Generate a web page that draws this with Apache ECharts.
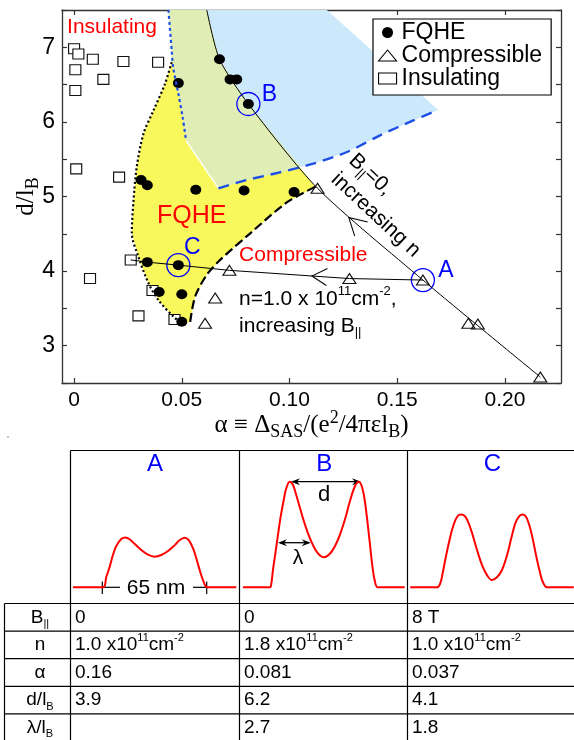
<!DOCTYPE html>
<html>
<head>
<meta charset="utf-8">
<script src="https://cdn.jsdelivr.net/npm/echarts@6/dist/echarts.min.js"></script>
<style>
  html, body { margin: 0; padding: 0; background: #fff; }
  #chart { width: 574px; height: 740px; }
</style>
</head>
<body>
<div id="chart"></div>
<script>
// phase diagram points: [alpha, d/lB]
const fqhe = [[0.0675, 6.84], [0.0724, 6.57], [0.0755, 6.57], [0.0484, 6.52], [0.0809, 6.24], [0.0311, 5.22], [0.034, 5.15], [0.0565, 5.09], [0.0789, 5.08], [0.1021, 5.06], [0.034, 4.12], [0.0484, 4.08], [0.0395, 3.72], [0.05, 3.69], [0.05, 3.32]]
const compressible = [[0.113, 5.11], [0.0721, 4.01], [0.0655, 3.64], [0.0608, 3.30], [0.1278, 3.90], [0.1619, 3.88], [0.183, 3.30], [0.1874, 3.29], [0.2164, 2.58]]
const insulating = [[0.0, 6.98], [0.002, 6.91], [0.0087, 6.84], [0.0229, 6.81], [0.039, 6.80], [0.0006, 6.70], [0.0136, 6.57], [0.0006, 6.42], [0.001, 5.37], [0.0209, 5.26], [0.0263, 4.15], [0.0074, 3.90], [0.0364, 3.74], [0.0299, 3.40], [0.0466, 3.35]]

// measurement paths
const pathIncN = [[0.2164, 2.58], [0.1619, 3.88], [0.113, 5.11], [0.0809, 6.24], [0.0675, 6.84], [0.0616, 7.5]]
const pathIncB = [[0.1619, 3.88], [0.1278, 3.90], [0.0721, 4.01], [0.0484, 4.08], [0.034, 4.12], [0.0263, 4.15]]
const markedNames = ['A', 'B', 'C']
const markedPoints = [[0.1619, 3.88], [0.0809, 6.24], [0.0484, 4.08]]

// region boundaries
const blackDotted = [[0.0453, 6.80], [0.0422, 6.51], [0.0368, 6.15], [0.0322, 5.84], [0.0291, 5.40], [0.0276, 4.95], [0.0268, 4.51], [0.0299, 4.19], [0.0345, 3.84], [0.0392, 3.61], [0.0461, 3.39], [0.05, 3.30]]
const blueDotted = [[0.0438, 7.5], [0.0453, 6.96], [0.046, 6.73], [0.0484, 6.38], [0.0504, 6.06], [0.052, 5.75]]
const whiteEdge = [[0.052, 5.75], [0.067, 5.11]]
const blackDashed = [[0.0539, 3.32], [0.0562, 3.66], [0.0616, 3.95], [0.0678, 4.15], [0.0815, 4.50], [0.0987, 4.92], [0.112, 5.13]]
const blueDashed = [[0.067, 5.11], [0.080, 5.22], [0.095, 5.32], [0.111, 5.44], [0.127, 5.60], [0.142, 5.82], [0.1575, 6.02], [0.169, 6.16]]
const blueCorner = [[0.1173, 7.5]]
const lineCross = [[0.105, 5.40]]

// density profiles: [position nm, density (B peak = 1)]
const waveA = [[-51.1, 0], [-32.4, 0], [-30.3, 0.10], [-28.2, 0.195], [-26.2, 0.306], [-24.1, 0.391], [-21.0, 0.457], [-18.5, 0.473], [-15.8, 0.455], [-12.6, 0.41], [-8.5, 0.353], [-4.4, 0.309], [-0.2, 0.29], [3.9, 0.306], [8.1, 0.344], [12.3, 0.40], [15.4, 0.448], [18.5, 0.47], [21.0, 0.448], [23.7, 0.369], [25.7, 0.275], [27.8, 0.164], [29.9, 0.069], [32.6, 0], [50.6, 0]]
const waveB = [[-50.6, 0], [-33.9, 0], [-32.9, 0.038], [-31.9, 0.164], [-30.4, 0.322], [-28.8, 0.495], [-27.1, 0.669], [-25.2, 0.827], [-23.6, 0.938], [-21.5, 1.0], [-19.4, 0.969], [-17.4, 0.874], [-15.3, 0.763], [-13.2, 0.653], [-10.1, 0.511], [-7.0, 0.40], [-3.9, 0.322], [-0.1, 0.284], [3.4, 0.315], [6.5, 0.384], [9.7, 0.495], [12.8, 0.637], [15.9, 0.81], [19.0, 0.953], [21.5, 1.0], [23.5, 0.953], [25.2, 0.827], [26.8, 0.637], [28.3, 0.432], [29.8, 0.227], [31.4, 0.069], [33.5, 0], [50.1, 0]]
const waveC = [[-51.1, 0], [-34.4, 0], [-32.4, 0.038], [-30.9, 0.133], [-29.3, 0.259], [-27.1, 0.417], [-25.1, 0.543], [-23.0, 0.637], [-20.9, 0.685], [-18.9, 0.691], [-16.8, 0.669], [-14.7, 0.606], [-12.2, 0.495], [-9.5, 0.353], [-6.4, 0.211], [-3.3, 0.116], [-0.2, 0.069], [2.9, 0.095], [6.0, 0.164], [9.2, 0.306], [11.8, 0.464], [14.3, 0.606], [16.8, 0.675], [18.9, 0.691], [21.0, 0.669], [23.0, 0.59], [25.1, 0.464], [27.2, 0.306], [29.3, 0.164], [31.4, 0.053], [34.1, 0], [50.7, 0]]

// table
const xTicks = [0, 0.05, 0.10, 0.15, 0.20]
const rowNames = ['B{sub|||}', 'n', 'α', 'd/l{sub|B}', 'λ/l{sub|B}']
const bParallel = ['0', '0', '8 T']
const density = [1.0, 1.8, 1.0]
const alphaVals = ['0.16', '0.081', '0.037']
const dRatio = ['3.9', '6.2', '4.1']
const lambdaRatio = ['', '2.7', '1.8']

const SANS = '"Liberation Sans", Arial, sans-serif'
const SERIF = '"Liberation Serif", "Times New Roman", serif'
const RED = '#ff0000'
const BLUE = '#0000ff'

function rich(size, family, color, k) {
  const s = Math.round(size * (k || 0.6))
  return {
    sup: { fontSize: s, fontFamily: family, color: color, fill: color, verticalAlign: 'top' },
    sub: { fontSize: s, fontFamily: family, color: color, fill: color, verticalAlign: 'bottom' }
  }
}

function region(points, color) {
  return {
    type: 'custom', silent: true, data: [[0, 0]],
    renderItem: function (params, api) {
      return { type: 'polygon', shape: { points: points.map(p => api.coord(p)) }, style: { fill: color } }
    }
  }
}

function edge(data, color, width, type) {
  return { type: 'line', data: data, symbol: 'none', smooth: 0.3, silent: true, lineStyle: { color: color, width: width, type: type } }
}

const yellowPoly = [[0.0438, 7.5]].concat(blueDotted.slice(1, 2), blackDotted, blackDashed, pathIncN.slice(3))
const bluePoly = blueDotted.concat(whiteEdge.slice(1), blueDashed.slice(1), blueCorner)
const greenPoly = blueDotted.concat(whiteEdge.slice(1), blueDashed.slice(1, 3), lineCross, pathIncN.slice(3))

const axisBase = {
  type: 'value', splitLine: { show: false }, nameMoveOverlap: false,
  axisLine: { show: true, onZero: false, lineStyle: { color: '#333', width: 1.3 } },
  axisTick: { show: true, inside: true, length: 5, lineStyle: { color: '#333', width: 1.2 } }
}

const chart = echarts.init(document.getElementById('chart'))

const waveGrids = [155, 324.2, 492.3].map(c => ({ left: c - 88.35, width: 176.7, top: 471.2, height: 126.7, outerBoundsMode: 'none' }))

const option = {
  animation: false,
  backgroundColor: '#fff',
  grid: [{ left: 62, right: 13, top: 10, bottom: 357, outerBoundsMode: 'none' }].concat(waveGrids),
  xAxis: [
    Object.assign({}, axisBase, {
      min: -0.0056, max: 0.226, position: 'bottom',
      axisTick: Object.assign({}, axisBase.axisTick, { customValues: xTicks }),
      axisLabel: { customValues: xTicks, margin: 7, fontSize: 21, fontFamily: SANS, color: '#000', formatter: v => (v === 0 ? '0' : v.toFixed(2)) },
      name: 'α ≡ Δ{sub|SAS}/(e{sup|2}/4πεl{sub|B})', nameLocation: 'middle', nameGap: 26,
      nameTextStyle: { fontSize: 25, fontFamily: SERIF, color: '#000', lineHeight: 32, rich: rich(25, SERIF, '#000', 0.72) }
    }),
    Object.assign({}, axisBase, {
      min: -0.0056, max: 0.226, position: 'top',
      axisTick: Object.assign({}, axisBase.axisTick, { customValues: xTicks }),
      axisLabel: { show: false }
    }),
    { gridIndex: 1, type: 'value', min: -55, max: 55, show: false },
    { gridIndex: 2, type: 'value', min: -55, max: 55, show: false },
    { gridIndex: 3, type: 'value', min: -55, max: 55, show: false }
  ],
  yAxis: [
    Object.assign({}, axisBase, {
      min: 2.5, max: 7.5, interval: 0.5, position: 'left',
      axisLabel: { margin: 7, fontSize: 23, fontFamily: SANS, color: '#000', formatter: v => (Number.isInteger(v) && v > 2.5 && v < 7.5 ? String(v) : '') },
      name: 'd/l{sub|B}', nameLocation: 'middle', nameGap: 20,
      nameTextStyle: { fontSize: 25, fontFamily: SERIF, color: '#000', lineHeight: 32, rich: rich(25, SERIF, '#000', 0.7) }
    }),
    Object.assign({}, axisBase, { min: 2.5, max: 7.5, interval: 0.5, position: 'right', axisLabel: { show: false } }),
    { gridIndex: 1, type: 'value', min: -0.1, max: 1.1, show: false },
    { gridIndex: 2, type: 'value', min: -0.1, max: 1.1, show: false },
    { gridIndex: 3, type: 'value', min: -0.1, max: 1.1, show: false }
  ],
  legend: {
    orient: 'vertical', left: 373, top: 19, padding: [2, 9, 5, 5], itemGap: 0,
    itemWidth: 18, itemHeight: 11, selectedMode: false,
    backgroundColor: '#fff', borderColor: '#000', borderWidth: 1.2,
    textStyle: { fontSize: 23, fontFamily: SANS, color: '#000', lineHeight: 23 },
    data: [
      { name: 'FQHE', icon: 'circle', itemStyle: { color: '#000', borderWidth: 0, opacity: 1 } },
      { name: 'Compressible', icon: 'triangle', itemStyle: { color: 'rgba(0,0,0,0)', borderColor: '#000', borderWidth: 1.1, opacity: 1 } },
      { name: 'Insulating', icon: 'rect', itemStyle: { color: 'rgba(0,0,0,0)', borderColor: '#000', borderWidth: 1.1, opacity: 1 } }
    ]
  },
  series: [
    region(yellowPoly, '#f8f85c'),
    region(bluePoly, '#cce8fb'),
    region(greenPoly, '#e0eeb6'),
    edge(blackDotted, '#000', 2.2, [2, 2.5]),
    edge(blueDotted, '#1d4fe6', 2.2, [3, 3]),
    edge(whiteEdge, '#fff', 1.3, 'solid'),
    edge(blackDashed, '#000', 2.2, [9, 4]),
    edge(blueDashed, '#1d4fe6', 2.4, [11, 7]),
    { type: 'line', data: pathIncN, symbol: 'none', smooth: 0.25, silent: true, lineStyle: { color: '#000', width: 1 } },
    { type: 'line', data: pathIncB, symbol: 'none', silent: true, lineStyle: { color: '#000', width: 1 } },
    {
      type: 'scatter', silent: true,
      symbol: 'path://M16,0L0,9L16,18',
      itemStyle: { color: 'rgba(0,0,0,0)', borderColor: '#000', borderWidth: 1, opacity: 1 },
      data: [
        { value: [0.1104, 3.934], symbolSize: [15, 17], symbolRotate: -4, symbolOffset: [7.5, 0.5] },
        { value: [0.1275, 4.72], symbolSize: [17, 19], symbolRotate: -43, symbolOffset: [6.2, 5.8] }
      ]
    },
    {
      name: 'Insulating', type: 'scatter', data: insulating, symbol: 'rect', symbolSize: [11, 10],
      itemStyle: { color: '#fff', borderColor: '#111', borderWidth: 1.1, opacity: 1 }
    },
    {
      name: 'Compressible', type: 'scatter', data: compressible, symbol: 'triangle', symbolSize: [13, 10],
      itemStyle: { color: 'rgba(0,0,0,0)', borderColor: '#111', borderWidth: 1.1, opacity: 1 }
    },
    {
      name: 'FQHE', type: 'scatter', data: fqhe, symbol: 'circle', symbolSize: [11, 10],
      itemStyle: { color: '#000', opacity: 1 }
    },
    {
      type: 'scatter', silent: true, symbol: 'circle', symbolSize: 23,
      itemStyle: { color: 'rgba(0,0,0,0)', borderColor: BLUE, borderWidth: 1.3, opacity: 1 },
      label: { show: true, position: 'inside', formatter: p => p.name, fontSize: 23, fontFamily: SANS, color: BLUE },
      data: markedNames.map((n, i) => ({ name: n, value: markedPoints[i], label: { offset: [[23, -9], [21, -9], [14, -17]][i] } }))
    },
    {
      type: 'scatter', silent: true, symbolSize: 0,
      itemStyle: { opacity: 1 },
      label: { show: true, position: 'inside', align: 'left', verticalAlign: 'middle', fontFamily: SANS, fontSize: 21, color: RED },
      data: [
        { value: [-0.00325, 7.27], label: { formatter: 'Insulating' } },
        { value: [0.0385, 4.734], label: { formatter: 'FQHE', fontSize: 25 } },
        { value: [0.0766, 4.219], label: { formatter: 'Compressible' } },
        { value: [0.0766, 3.447], label: { formatter: 'n=1.0 x 10{sup|11}cm{sup|-2},\nincreasing B{sub|||}', color: '#000', lineHeight: 27, rich: rich(21, SANS, '#000') } },
        { value: [0.1249, 5.396], label: { formatter: 'B{sub|||}=0,\nincreasing n', color: '#000', lineHeight: 26, rotate: -43, rich: rich(21, SANS, '#000') } }
      ]
    }
  ].concat([waveA, waveB, waveC].map((w, i) => ({
    type: 'line', xAxisIndex: i + 2, yAxisIndex: i + 2, data: w, symbol: 'none', smooth: 0.35, silent: true,
    lineStyle: { color: RED, width: 2 }
  })))
}

// lower panel: frames, titles, markers and table
const colX = [4.5, 70.5, 239.5, 407.5]
const rowTop = 603.5
const rowH = 27.6
const g = []
const line = (x1, y1, x2, y2, w) => g.push({ type: 'line', silent: true, shape: { x1, y1, x2, y2 }, style: { stroke: '#000', lineWidth: w || 1.2 } })
const text = (x, y, t, opt) => g.push({ type: 'text', silent: true, x, y, style: Object.assign({ text: t, fontSize: 19, fontFamily: SANS, fill: '#000', align: 'left', verticalAlign: 'middle', rich: rich(19, SANS, '#000') }, opt || {}) })
const head = (x, y, dir) => g.push({ type: 'polygon', silent: true, shape: { points: [[x, y], [x - dir * 9, y - 3.5], [x - dir * 6, y], [x - dir * 9, y + 3.5]] }, style: { fill: '#000' } })

line(70.5, 450.5, 574, 450.5)
colX.slice(1).forEach(x => line(x, 450.5, x, 740))
line(4.5, rowTop, 4.5, 740)
for (let r = 0; r < 5; r++) line(4.5, rowTop + r * rowH, 574, rowTop + r * rowH)

;['A', 'B', 'C'].forEach((t, i) => text([155, 324.2, 492.3][i], 464, t, { fontSize: 24, fill: BLUE, align: 'center' }))

// 65 nm width marker
line(102.3, 587.3, 120, 587.3)
line(193, 587.3, 206.7, 587.3)
line(102.3, 581.5, 102.3, 594)
line(206.7, 581.5, 206.7, 594)
text(156, 588, '65 nm', { fontSize: 21, align: 'center' })

// d and lambda markers
line(293, 481.7, 359, 481.7, 1.3)
head(291, 481.7, -1)
head(361, 481.7, 1)
text(324, 495, 'd', { fontSize: 22, align: 'center' })
line(280, 542.7, 308.7, 542.7, 1.3)
head(278, 542.7, -1)
head(310.7, 542.7, 1)
text(298, 558, 'λ', { fontSize: 21, align: 'center' })

// table text
const cols = [0, 1, 2].map(i => [
  bParallel[i],
  density[i].toFixed(1) + ' x10{sup|11}cm{sup|-2}',
  alphaVals[i],
  dRatio[i],
  lambdaRatio[i]
])
rowNames.forEach((n, r) => {
  const y = rowTop + r * rowH + rowH / 2
  text(40, y, n, { align: 'center', lineHeight: 24 })
  cols.forEach((c, i) => text(colX[i + 1] + 4.5, y, c[r], { lineHeight: 24 }))
})
g.push({ type: 'circle', silent: true, shape: { cx: 8, cy: 437, r: 0.8 }, style: { fill: '#777' } })

option.graphic = g
chart.setOption(option)
</script>
</body>
</html>
